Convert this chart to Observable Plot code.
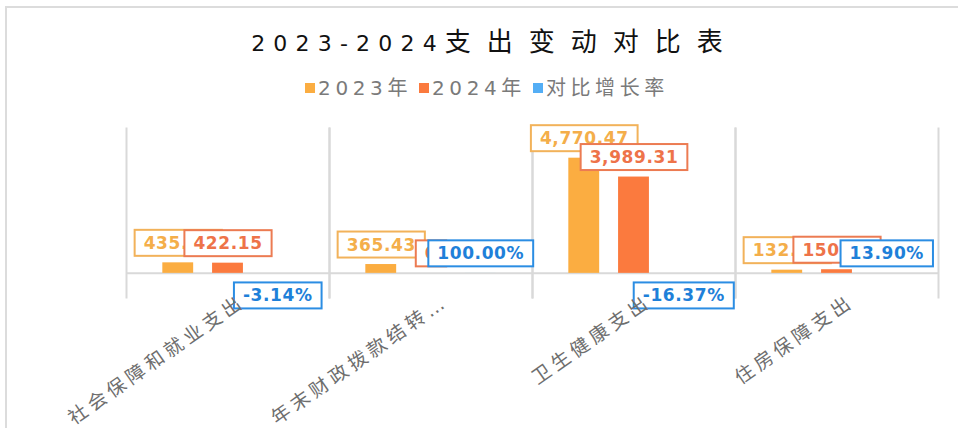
<!DOCTYPE html>
<html>
<head>
<meta charset="utf-8">
<script src="https://cdn.jsdelivr.net/npm/d3@7"></script>
<script src="https://cdn.jsdelivr.net/npm/@observablehq/plot@0.6"></script>
<style>
html,body{margin:0;padding:0;background:#fff;}
#wrap{position:relative;width:958px;height:428px;overflow:hidden;font-family:"DejaVu Sans","Noto Sans CJK SC",sans-serif;}
#border{position:absolute;left:5px;top:6px;width:980px;height:450px;border:2px solid #dcdcdc;box-sizing:border-box;}
#title{position:absolute;left:0;top:22px;width:958px;text-align:center;padding-left:32px;box-sizing:border-box;white-space:nowrap;line-height:36px;color:#111;}
#title .num{font-family:"DejaVu Sans";font-size:22px;letter-spacing:8.2px;}
#title .cjk{font-family:"Noto Sans CJK SC";font-size:26px;letter-spacing:16px;}
#legend{position:absolute;left:0;top:76px;width:958px;padding-left:16px;box-sizing:border-box;display:flex;justify-content:center;align-items:center;font-size:20px;color:#7a7a7a;line-height:24px;white-space:nowrap;}
#legend .item{display:flex;align-items:center;margin-right:7px;}
#legend .item:last-child{margin-right:0;}
#legend .txt{letter-spacing:4.6px;}
#legend .sw{width:10px;height:10px;display:inline-block;margin-right:3px;}
#chart{position:absolute;left:0;top:0;}
g[aria-label="fx-axis tick label"] text{letter-spacing:4.4px;}
</style>
</head>
<body>
<div id="wrap">
  <div id="border"></div>
  <div id="title"><span class="num">2023-2024</span><span class="cjk">支出变动对比表</span></div>
  <div id="legend"></div>
  <div id="chart"></div>
</div>
<script>
const categories = ["社会保障和就业支出", "年末财政拨款结转…", "卫生健康支出", "住房保障支出"];
const seriesNames = ["2023年", "2024年", "对比增长率"];
const values2023 = [435.84, 365.43, 4770.47, 132.05];
const values2024 = [422.15, 0, 3989.31, 150.41];
const growthRates = [-0.0314, 1.0, -0.1637, 0.139];
const barColors = ["#FBAD41", "#FB7A3E", "#54AEF5"];
const labelColors = ["#F4AE4A", "#EE7349", "#1E80D9"];
const boxColors = ["#F2B25A", "#EC7B52", "#2B8DE3"];

// legend
const legend = document.getElementById("legend");
seriesNames.forEach((s, i) => {
  const item = document.createElement("span");
  item.className = "item";
  const sw = document.createElement("span");
  sw.className = "sw";
  sw.style.background = barColors[i];
  const t = document.createElement("span");
  t.className = "txt";
  t.textContent = s;
  item.appendChild(sw);
  item.appendChild(t);
  legend.appendChild(item);
});

const rows = categories.flatMap((c, i) => [
  {category: c, series: seriesNames[0], value: values2023[i]},
  {category: c, series: seriesNames[1], value: values2024[i]},
  {category: c, series: seriesNames[2], value: growthRates[i]}
]);
const fmtNum = v => v === 0 ? "0" : d3.format(",.2f")(v);
const fmtPct = v => d3.format(".2%")(v).replace("\u2212", "-");
const labelFont = {fontSize: 17, fontWeight: "bold"};

const chart = Plot.plot({
  width: 958,
  height: 428,
  marginTop: 128,
  marginBottom: 131,
  marginLeft: 125,
  marginRight: 19,
  style: {fontFamily: '"DejaVu Sans","Noto Sans CJK SC",sans-serif', background: "transparent", overflow: "visible"},
  fx: {domain: categories, padding: 0, label: null},
  x: {domain: seriesNames, paddingInner: 0.38, paddingOuter: 0.73, round: false, axis: null},
  y: {domain: [-1000, 6000], axis: null},
  color: {domain: seriesNames, range: barColors},
  marks: [
    Plot.frame({anchor: "left", stroke: "#d9d9d9", strokeWidth: 2}),
    Plot.frame({anchor: "right", stroke: "#d9d9d9", strokeWidth: 2}),
    Plot.ruleY([0], {stroke: "#d9d9d9", strokeWidth: 2}),
    Plot.barY(rows, {fx: "category", x: "series", y: "value", fill: "series"}),
    Plot.text(rows.filter(d => d.series === seriesNames[0]), {
      fx: "category", x: "series", y: "value", text: d => fmtNum(d.value),
      lineAnchor: "bottom", dy: -14, fill: labelColors[0], ...labelFont
    }),
    Plot.text(rows.filter(d => d.series === seriesNames[1]), {
      fx: "category", x: "series", y: "value", text: d => fmtNum(d.value),
      lineAnchor: "bottom", dy: -14, fill: labelColors[1], ...labelFont
    }),
    Plot.text(rows.filter(d => d.series === seriesNames[2] && d.value >= 0), {
      fx: "category", x: "series", y: "value", text: d => fmtPct(d.value),
      lineAnchor: "bottom", dy: -14, fill: labelColors[2], ...labelFont
    }),
    Plot.text(rows.filter(d => d.series === seriesNames[2] && d.value < 0), {
      fx: "category", x: "series", y: "value", text: d => fmtPct(d.value),
      lineAnchor: "top", dy: 16, fill: labelColors[2], ...labelFont
    }),
    Plot.axisFx({
      anchor: "bottom", tickSize: 0, tickPadding: 2, tickRotate: -35, fontSize: 19,
      color: "#6e6e6e", label: null, dx: 15, textAnchor: "end", lineAnchor: "middle"
    })
  ]
});
document.getElementById("chart").appendChild(chart);

// draw the bordered boxes behind data labels (matched by the label colour of each text mark)
labelColors.forEach((fillCol, i) => {
  chart.querySelectorAll("g[fill]").forEach(g => {
    if ((g.getAttribute("fill") || "").toLowerCase() !== fillCol.toLowerCase()) return;
    g.querySelectorAll("text").forEach(t => {
      t.style.letterSpacing = "0.6px";
      const b = t.getBBox();
      const r = document.createElementNS("http://www.w3.org/2000/svg", "rect");
      r.setAttribute("x", b.x - 9);
      r.setAttribute("y", b.y - 3);
      r.setAttribute("width", b.width + 18);
      r.setAttribute("height", b.height + 6);
      r.setAttribute("fill", "#ffffff");
      r.setAttribute("stroke", boxColors[i]);
      r.setAttribute("stroke-width", 2);
      const tr = t.getAttribute("transform");
      if (tr) r.setAttribute("transform", tr);
      t.parentNode.insertBefore(r, t);
    });
  });
});
</script>
</body>
</html>
